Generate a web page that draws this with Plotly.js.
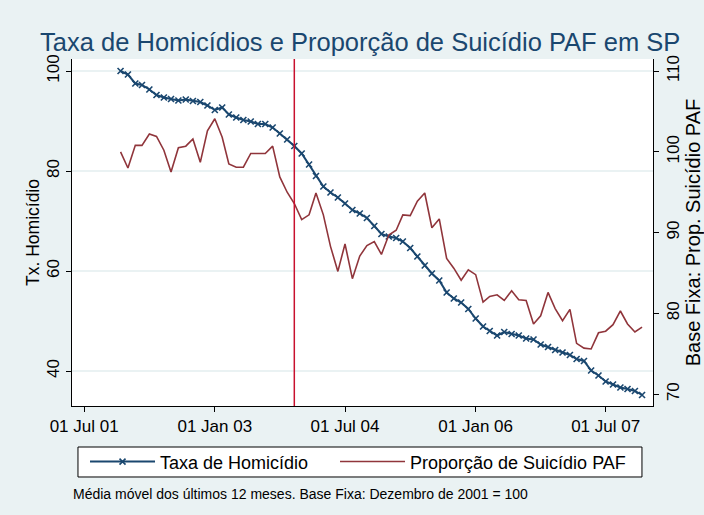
<!DOCTYPE html>
<html><head><meta charset="utf-8">
<script src="https://cdn.plot.ly/plotly-3.0.1.min.js"></script>
<style>html,body{margin:0;padding:0;background:#eaf2f3}</style>
</head><body><div id="chart" style="width:704px;height:515px"></div>
<script>
const months = [
'2001-12-01',
'2002-01-01','2002-02-01','2002-03-01','2002-04-01','2002-05-01','2002-06-01','2002-07-01','2002-08-01','2002-09-01','2002-10-01','2002-11-01','2002-12-01',
'2003-01-01','2003-02-01','2003-03-01','2003-04-01','2003-05-01','2003-06-01','2003-07-01','2003-08-01','2003-09-01','2003-10-01','2003-11-01','2003-12-01',
'2004-01-01','2004-02-01','2004-03-01','2004-04-01','2004-05-01','2004-06-01','2004-07-01','2004-08-01','2004-09-01','2004-10-01','2004-11-01','2004-12-01',
'2005-01-01','2005-02-01','2005-03-01','2005-04-01','2005-05-01','2005-06-01','2005-07-01','2005-08-01','2005-09-01','2005-10-01','2005-11-01','2005-12-01',
'2006-01-01','2006-02-01','2006-03-01','2006-04-01','2006-05-01','2006-06-01','2006-07-01','2006-08-01','2006-09-01','2006-10-01','2006-11-01','2006-12-01',
'2007-01-01','2007-02-01','2007-03-01','2007-04-01','2007-05-01','2007-06-01','2007-07-01','2007-08-01','2007-09-01','2007-10-01','2007-11-01','2007-12-01'
];
const taxaHomicidio = [
100, 99.3, 97.5, 97.2, 96.3, 95.2, 94.7, 94.4, 94.1, 94.3, 94.0, 93.8, 93.1,
92.2, 92.7, 91.3, 90.7, 90.2, 89.9, 89.4, 89.4, 88.7, 87.5, 86.3, 85.0,
83.5, 81.3, 79.0, 76.9, 75.7, 74.7, 73.5, 72.2, 71.5, 70.6, 69.0, 67.4,
66.9, 66.6, 65.9, 64.6, 62.9, 61.1, 59.5, 58.1, 55.7, 54.5, 53.7, 52.4,
50.5, 48.9, 48.0, 47.1, 47.8, 47.4, 47.1, 46.5, 46.3, 45.3, 44.8, 44.2,
43.7, 43.2, 42.4, 42.0, 40.1, 39.1, 37.9, 37.3, 36.7, 36.4, 36.0, 35.2
];
const propSuicidioPAF = [
100, 98.0, 100.8, 100.8, 102.2, 101.9, 100.2, 97.5, 100.5, 100.7, 101.6, 98.7, 102.6,
104.1, 101.8, 98.5, 98.1, 98.1, 99.8, 99.8, 99.8, 100.7, 96.9, 95.0, 93.6,
91.6, 92.2, 94.9, 92.2, 88.3, 85.2, 88.6, 84.3, 87.1, 88.4, 88.9, 87.3,
89.7, 90.3, 92.2, 92.1, 93.9, 94.9, 90.6, 91.7, 86.8, 85.6, 84.1, 85.4,
84.8, 81.4, 82.1, 82.3, 81.6, 82.8, 81.7, 81.6, 78.7, 79.7, 82.6, 80.6,
79.1, 80.5, 76.3, 75.7, 75.6, 77.6, 77.8, 78.6, 80.3, 78.7, 77.7, 78.3
];
const xTickVals = ['2001-07-01','2003-01-01','2004-07-01','2006-01-01','2007-07-01'];
const xTickText = ['01 Jul 01','01 Jan 03','01 Jul 04','01 Jan 06','01 Jul 07'];
const leftTicks = [40, 60, 80, 100];
const rightTicks = [70, 80, 90, 100, 110];
const eventDate = '2003-12-01';

const FONT = 'Liberation Sans, Arial, sans-serif';
const BLUE = '#1a476f', RED = '#90353b';

const traces = [
  {x: months, y: taxaHomicidio, name: 'Taxa de Homicídio', type: 'scatter', mode: 'lines+markers',
   legend: 'legend', showlegend: true,
   line: {color: BLUE, width: 2},
   marker: {symbol: 'x-thin', size: 6, color: BLUE, line: {color: BLUE, width: 1.6}}},
  {x: months, y: propSuicidioPAF, name: 'Proporção de Suicídio PAF', type: 'scatter', mode: 'lines',
   legend: 'legend2', showlegend: true,
   yaxis: 'y2', line: {color: RED, width: 1.6}}
];

const legendBase = {orientation: 'h', xanchor: 'left', y: -0.161, yanchor: 'middle',
  bgcolor: 'rgba(0,0,0,0)', borderwidth: 0, itemwidth: 65, font: {family: FONT, size: 18}};

const layout = {
  width: 704, height: 515,
  showlegend: true,
  paper_bgcolor: '#eaf2f3', plot_bgcolor: '#ffffff',
  margin: {l: 72, r: 51, t: 59, b: 109, pad: 0},
  font: {family: FONT, color: '#000'},
  title: {text: 'Taxa de Homicídios e Proporção de Suicídio PAF em SP',
    font: {family: FONT, size: 25.5, color: BLUE},
    xref: 'paper', x: 0.496, xanchor: 'center', yref: 'container', y: 0.918, yanchor: 'middle'},
  xaxis: {type: 'date', range: ['2001-05-11', '2008-01-16'], tickmode: 'array',
    tickvals: xTickVals, ticktext: xTickText, ticks: 'outside', ticklen: 5, tickcolor: '#000',
    showline: true, linecolor: '#000', linewidth: 1, showgrid: false, zeroline: false,
    tickfont: {family: FONT, size: 17}},
  yaxis: {range: [33, 102.4], tickmode: 'array', tickvals: leftTicks, tickangle: -90,
    ticks: 'outside', ticklen: 5, tickcolor: '#000', showline: true, linecolor: '#000', linewidth: 1,
    showgrid: true, gridcolor: '#eaf2f3', gridwidth: 1.5, zeroline: false,
    tickfont: {family: FONT, size: 17},
    title: {text: 'Tx. Homicídio', font: {family: FONT, size: 17.5}, standoff: 0}},
  yaxis2: {overlaying: 'y', side: 'right', range: [68.54, 111.49], tickmode: 'array', tickvals: rightTicks,
    tickangle: -90, ticks: 'outside', ticklen: 5, tickcolor: '#000', showline: true, linecolor: '#000',
    linewidth: 1, showgrid: false, zeroline: false, tickfont: {family: FONT, size: 17},
    title: {text: 'Base Fixa: Prop. Suicídio PAF', font: {family: FONT, size: 20}, standoff: 0}},
  legend: Object.assign({}, legendBase, {x: 0.0224}),
  legend2: Object.assign({}, legendBase, {x: 0.4527}),
  shapes: [
    {type: 'line', xref: 'x', yref: 'paper', x0: eventDate, x1: eventDate, y0: 0, y1: 1,
     line: {color: '#c8102e', width: 1.5}},
    {type: 'rect', xref: 'paper', yref: 'paper', x0: 0.0103, x1: 0.981, y0: -0.2046, y1: -0.1182,
     fillcolor: '#ffffff', line: {color: '#000', width: 1}, layer: 'above'}
  ],
  annotations: [{text: 'Média móvel dos últimos 12 meses. Base Fixa: Dezembro de 2001 = 100',
    xref: 'paper', yref: 'paper', x: -0.0017, y: -0.2536, xanchor: 'left', yanchor: 'middle',
    showarrow: false, font: {family: FONT, size: 14, color: '#000'}}]
};

Plotly.newPlot('chart', traces, layout, {displayModeBar: false, staticPlot: true});
</script></body></html>
